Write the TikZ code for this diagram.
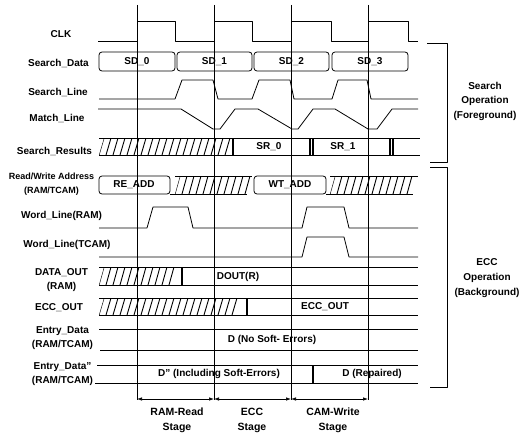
\documentclass[tikz,border=0pt]{standalone}
\usepackage{fontspec}
\setmainfont{Liberation Sans}
\usetikzlibrary{arrows.meta}
\newcommand{\hatchreg}[4]{%
  \begin{scope}
    \clip (#1,#4) -- (#1+5,#3) -- (#2,#3) -- (#2-5,#4) -- cycle;
    \foreach \k in {0,...,50} {\draw[hatch] (#1-7+\k*7,#4) -- ++(5,#3-#4);}
  \end{scope}}
\newcommand{\dq}{\char"22\relax}
\begin{document}
\begin{tikzpicture}[x=1pt,y=-1pt,
  sig/.style={line width=0.8pt, line join=round},
  tline/.style={line width=0.6pt},
  barline/.style={line width=1.2pt},
  hatch/.style={line width=0.9pt},
  lbl/.style={font=\bfseries\fontsize{10}{14}\selectfont, inner sep=0pt, align=center},
  small/.style={font=\bfseries\fontsize{9}{14}\selectfont, inner sep=0pt, align=center},
  stagelbl/.style={font=\bfseries\fontsize{10.5}{15}\selectfont, inner sep=0pt, align=center},
  stagearrow/.style={line width=0.7pt, {Latex[length=5pt,width=3.5pt]}-{Latex[length=5pt,width=3.5pt]}},
  box/.style={sig, rounded corners=3pt}
]
\useasboundingbox (0,0) rectangle (519,436);

% time lines
\foreach \n/\x in {a/137,b/214,c/291,d/368} {
  \coordinate (top\n) at (\x,5);
  \coordinate (bot\n) at (\x,400);
  \coordinate (st\n) at (\x,399);
  \draw[tline] (top\n) -- (bot\n);
}

% left labels
\node[lbl] (lclk) at (61,34) {CLK};
\node[lbl] (lsd) at (58.5,63) {Search\_Data};
\node[lbl] (lsl) at (58,92) {Search\_Line};
\node[lbl] (lml) at (57,118) {Match\_Line};
\node[lbl] (lsr) at (54.5,151) {Search\_Results};
\node[small] (lrw) at (51.5,184) {Read/Write Address\\(RAM/TCAM)};
\node[lbl] (lwr) at (61.5,216) {Word\_Line(RAM)};
\node[lbl] (lwt) at (67,245) {Word\_Line(TCAM)};
\node[lbl] (ldo) at (61.5,280) {DATA\_OUT\\(RAM)};
\node[lbl] (leo) at (59,308) {ECC\_OUT};
\node[lbl] (led) at (62.5,338.5) {Entry\_Data\\(RAM/TCAM)};
\node[lbl] (ledd) at (62.5,374.5) {Entry\_Data\dq\\(RAM/TCAM)};

% CLK
\draw[sig] (98,41) -- (137,41) -- (137,21) -- (175,21) -- (175,41) -- (214,41) -- (214,21)
  -- (252,21) -- (252,41) -- (291,41) -- (291,21) -- (331,21) -- (331,41) -- (368,41)
  -- (368,21) -- (408,21) -- (408,41) -- (418,41);

% Search_Data
\draw[box] (99,52) rectangle (175,71);
\draw[box] (177,52) rectangle (252,71);
\draw[box] (254,52) rectangle (329,71);
\draw[box] (332,52) rectangle (408,71);
\node[lbl] (sd0) at (137,62) {SD\_0};
\node[lbl] (sd1) at (214.5,62) {SD\_1};
\node[lbl] (sd2) at (291.5,62) {SD\_2};
\node[lbl] (sd3) at (370,62) {SD\_3};

% Search_Line
\draw[sig] (99,99) -- (175,99) -- (182,80) -- (213,80) -- (218,99) -- (252,99) -- (259,80)
  -- (290,80) -- (294,99) -- (332,99) -- (338,80) -- (367,80) -- (371,99) -- (418,99);

% Match_Line
\draw[sig] (98,109) -- (181,109) -- (213,129) -- (220,129) -- (235,109) -- (258,109)
  -- (292,129) -- (298,129) -- (313,109) -- (335,109) -- (368,129) -- (377,129)
  -- (392,109) -- (418,109);

% Search_Results
\hatchreg{99}{233}{138}{155}
\draw[sig] (99,138) -- (420,138);
\draw[sig] (99,155) -- (420,155);
\foreach \x in {233,310,313,390,393} {\draw[barline] (\x,138) -- (\x,155);}
\node[lbl] (sr0) at (269,147) {SR\_0};
\node[lbl] (sr1) at (343,147) {SR\_1};

% Read/Write Address
\draw[box] (99,176) rectangle (170,194);
\hatchreg{175}{252}{176}{194}
\draw[sig] (175,176) -- (252,176);
\draw[sig] (170,194) -- (247,194);
\draw[box] (254,176) rectangle (326,194);
\hatchreg{330}{418}{176}{194}
\draw[sig] (330,176) -- (418,176);
\draw[sig] (326,194) -- (413,194);
\node[lbl] (rea) at (134,185) {RE\_ADD};
\node[lbl] (wta) at (290,185) {WT\_ADD};

% Word_Line(RAM)
\draw[sig] (99,228) -- (147,228) -- (153,207) -- (188,207) -- (193,228) -- (302,228)
  -- (307,207) -- (344,207) -- (349,228) -- (418,228);
% Word_Line(TCAM)
\draw[sig] (99,257) -- (302,257) -- (307,237) -- (344,237) -- (349,257) -- (418,257);

% DATA_OUT
\hatchreg{99}{178}{267}{285}
\draw[sig] (99,267) -- (418,267);
\draw[sig] (99,285) -- (418,285);
\draw[barline] (182,267) -- (182,285);
\node[lbl] (dout) at (238,277) {DOUT(R)};

% ECC_OUT
\hatchreg{99}{243}{298}{315}
\draw[sig] (99,298) -- (418,298);
\draw[sig] (99,315) -- (418,315);
\draw[barline] (247,298) -- (247,315);
\node[lbl] (eccout) at (325,307) {ECC\_OUT};

% Entry_Data
\draw[sig] (99,329) -- (418,329);
\draw[sig] (100,350) -- (418,350);
\node[lbl] (dnse) at (272,340) {D (No Soft- Errors)};

% Entry_Data''
\draw[sig] (97,365) -- (418,365);
\draw[sig] (95,383) -- (418,383);
\draw[barline] (313,365) -- (313,383);
\node[lbl] (dinc) at (219,374) {D\dq{} (Including Soft-Errors)};
\node[lbl] (drep) at (372,374) {D (Repaired)};

% stage arrows
\draw[stagearrow] (sta) -- (stb);
\draw[stagearrow] (stb) -- (stc);
\draw[stagearrow] (stc) -- (std);
\node[stagelbl] (s1) at (177,420.5) {RAM-Read\\Stage};
\node[stagelbl] (s2) at (252,420.5) {ECC\\Stage};
\node[stagelbl] (s3) at (333,420.5) {CAM-Write\\Stage};

% brackets
\draw[sig] (427,43) -- (447,43) -- (447,162) -- (430,162);
\draw[sig] (430,167) -- (447,167) -- (447,387) -- (430,387);
\node[font=\bfseries\fontsize{10}{14.5}\selectfont, inner sep=0pt, align=center] (gs) at (485,101) {Search\\Operation\\(Foreground)};
\node[font=\bfseries\fontsize{10}{15}\selectfont, inner sep=0pt, align=center] (ge) at (487,278) {ECC\\Operation\\(Background)};
\end{tikzpicture}
\end{document}
